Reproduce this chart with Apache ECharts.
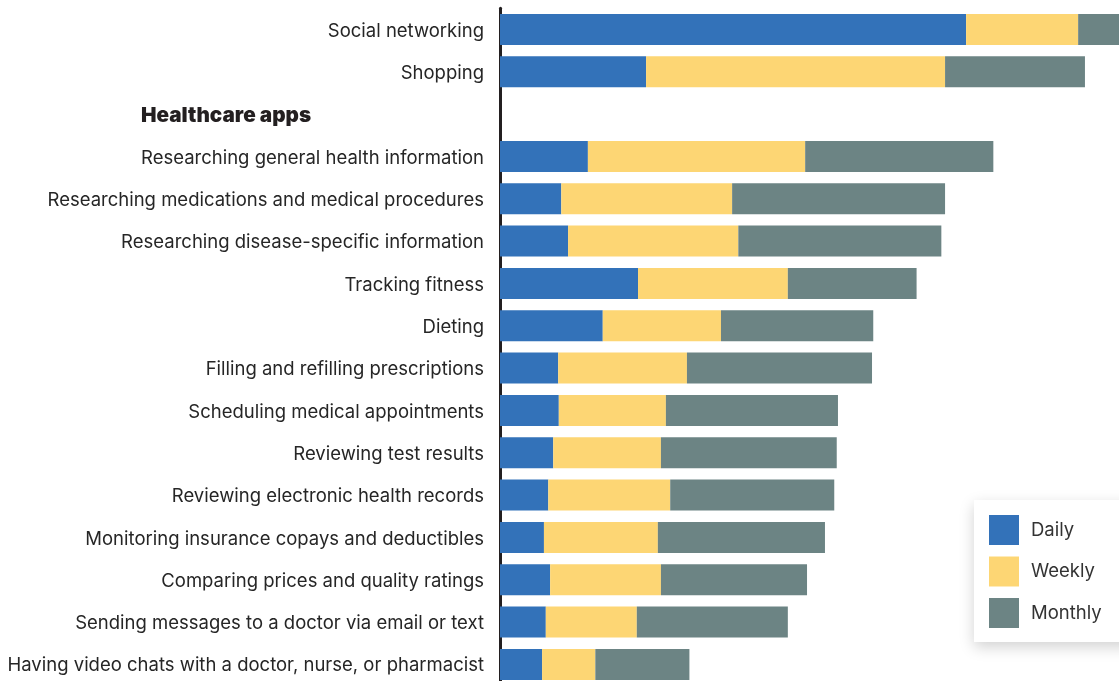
<!DOCTYPE html>
<html>
<head>
<meta charset="utf-8">
<script src="https://cdn.jsdelivr.net/npm/echarts@6/dist/echarts.min.js"></script>
<style>
html,body{margin:0;padding:0;background:#fff;overflow:hidden;}
#chart{width:1119px;height:700px;}
</style>
</head>
<body>
<div id="chart"></div>
<script>
const categories = [
  "Social networking",
  "Shopping",
  "Healthcare apps",
  "Researching general health information",
  "Researching medications and medical procedures",
  "Researching disease-specific information",
  "Tracking fitness",
  "Dieting",
  "Filling and refilling prescriptions",
  "Scheduling medical appointments",
  "Reviewing test results",
  "Reviewing electronic health records",
  "Monitoring insurance copays and deductibles",
  "Comparing prices and quality ratings",
  "Sending messages to a doctor via email or text",
  "Having video chats with a doctor, nurse, or pharmacist"
];
const daily   = [75.3, 23.6, null, 14.2,  9.9, 11.0, 22.3, 16.6,  9.4,  9.5,  8.6,  7.8,  7.1,  8.1,  7.4,  6.8];
const weekly  = [18.1, 48.3, null, 35.1, 27.6, 27.5, 24.2, 19.1, 20.8, 17.3, 17.4, 19.7, 18.4, 17.9, 14.7,  8.6];
const monthly = [ 7.0, 22.6, null, 30.4, 34.4, 32.8, 20.8, 24.6, 29.9, 27.8, 28.4, 26.5, 27.0, 23.6, 24.4, 15.2];
const seriesNames = ["Daily", "Weekly", "Monthly"];
const colors = ["#3372b9", "#fdd674", "#6c8484"];
const headerCategory = "Healthcare apps";

const chart = echarts.init(document.getElementById('chart'));
const FONT = 'Inter, "Noto Sans", sans-serif';
const values = [daily, weekly, monthly];

chart.setOption({
  animation: false,
  color: colors,
  grid: { left: 500, right: 0, top: 8.3, height: 677.3, containLabel: false },
  xAxis: {
    type: 'value', min: 0, max: 100, show: false
  },
  yAxis: {
    type: 'category', inverse: true, data: categories,
    axisTick: { show: false },
    axisLine: { show: true, lineStyle: { color: '#231f20', width: 3 } },
    axisLabel: {
      margin: 16, fontFamily: FONT, fontSize: 18.5, color: '#262626',
      padding: [3, 0, 0, 0],
      formatter: function (v) { return v === headerCategory ? '{h|' + v + '}' : v; },
      rich: {
        h: { fontFamily: FONT, fontSize: 20.7, fontWeight: 900, color: '#231f20', width: 343, align: 'left' }
      }
    }
  },
  legend: {
    orient: 'vertical', left: 974, top: 500,
    data: seriesNames,
    icon: 'rect', itemWidth: 30, itemHeight: 30, itemGap: 11.5,
    padding: [15, 60, 14, 15],
    backgroundColor: '#fff',
    shadowBlur: 14, shadowColor: 'rgba(0,0,0,0.18)', shadowOffsetY: 5,
    textStyle: { fontFamily: FONT, fontSize: 18.5, color: '#333', padding: [0, 0, 0, 7] }
  },
  series: seriesNames.map((name, i) => ({
    name: name, type: 'bar', stack: 'total', barWidth: 31,
    data: values[i], itemStyle: { color: colors[i] }
  }))
});
</script>
</body>
</html>
